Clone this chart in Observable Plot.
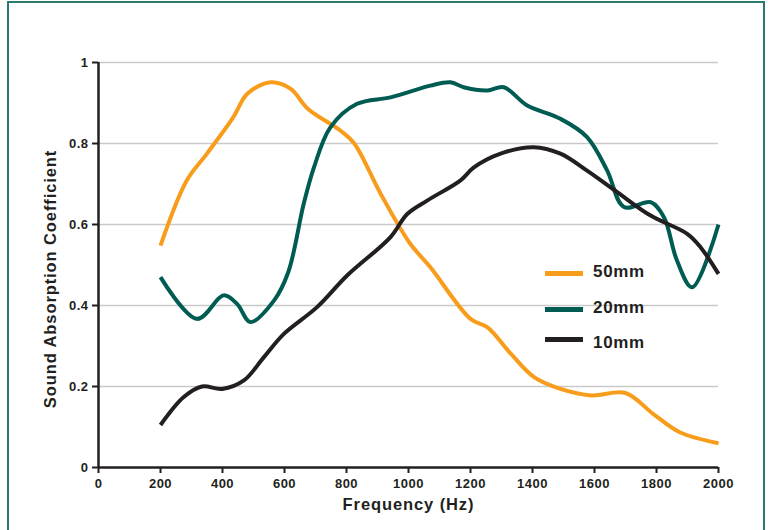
<!DOCTYPE html>
<html>
<head>
<meta charset="utf-8">
<script src="https://cdn.jsdelivr.net/npm/d3@7"></script>
<script src="https://cdn.jsdelivr.net/npm/@observablehq/plot@0.6"></script>
<style>
  body { margin: 0; background: #fff; font-family: "Liberation Sans", Arial, sans-serif; }
  #wrap { position: relative; width: 768px; height: 530px; overflow: hidden; }
  #border { position: absolute; left: 7px; top: 1px; width: 754px; height: 560px;
            border: 2px solid #2b7a70; border-bottom: none; pointer-events: none; }
  #legend { position: absolute; left: 545px; top: 0; }
  .sw { position: absolute; left: 0; width: 38px; height: 5px; }
  .lab { position: absolute; left: 48px; font-weight: bold; font-size: 17px; letter-spacing: 0.7px;
         color: #231f20; line-height: 18px; white-space: nowrap; }
  g[aria-label="x-axis tick label"], g[aria-label="y-axis tick label"] { letter-spacing: 0.5px; }
  g[aria-label="text"] { letter-spacing: 0.9px; }
</style>
</head>
<body>
<div id="wrap">
  <div id="chart"></div>
  <div id="border"></div>
  <div id="legend"></div>
</div>
<script>
const seriesNames = ["50mm", "20mm", "10mm"];
const seriesColors = ["#f89c1c", "#005c52", "#231f20"];

const freq50 = [200, 285, 350, 435, 480, 555, 620, 675, 780, 825, 910, 1005, 1070, 1200, 1255, 1330, 1405, 1490, 1590, 1700, 1790, 1875, 2000];
const abs50  = [0.548, 0.709, 0.775, 0.865, 0.923, 0.951, 0.935, 0.886, 0.832, 0.80, 0.676, 0.553, 0.495, 0.367, 0.346, 0.281, 0.223, 0.194, 0.178, 0.184, 0.132, 0.087, 0.060];

const freq20 = [200, 318, 404, 447, 490, 566, 612, 662, 695, 748, 834, 942, 1071, 1135, 1178, 1254, 1307, 1383, 1490, 1576, 1641, 1695, 1781, 1824, 1866, 1915, 2000];
const abs20  = [0.47, 0.367, 0.425, 0.404, 0.359, 0.412, 0.482, 0.651, 0.741, 0.84, 0.898, 0.914, 0.943, 0.951, 0.939, 0.931, 0.939, 0.894, 0.861, 0.816, 0.733, 0.643, 0.655, 0.618, 0.511, 0.445, 0.60];

const freq10 = [200, 275, 334, 399, 469, 533, 598, 705, 802, 942, 996, 1060, 1168, 1211, 1297, 1404, 1490, 1576, 1673, 1781, 1899, 1942, 2000];
const abs10  = [0.105, 0.174, 0.2, 0.194, 0.215, 0.272, 0.33, 0.396, 0.474, 0.569, 0.626, 0.659, 0.709, 0.741, 0.775, 0.791, 0.775, 0.733, 0.68, 0.622, 0.577, 0.544, 0.478];

const xTicks = [0, 200, 400, 600, 800, 1000, 1200, 1400, 1600, 1800, 2000];
const yTicks = [0, 0.2, 0.4, 0.6, 0.8, 1];
const xTitle = "Frequency (Hz)";
const yTitle = "Sound Absorption Coefficient";

const toRows = (xs, ys, name) => xs.map((x, i) => ({freq: x, abs: ys[i], series: name}));
const rows = [
  ...toRows(freq50, abs50, seriesNames[0]),
  ...toRows(freq20, abs20, seriesNames[1]),
  ...toRows(freq10, abs10, seriesNames[2])
];

const font = "'Liberation Sans', Arial, sans-serif";
const ink = "#231f20";

const plot = Plot.plot({
  width: 768,
  height: 530,
  marginLeft: 98,
  marginRight: 50,
  marginTop: 62,
  marginBottom: 63,
  style: {fontFamily: font, background: "transparent"},
  x: {domain: [0, 2000]},
  y: {domain: [0, 1]},
  color: {domain: seriesNames, range: seriesColors},
  marks: [
    Plot.gridY(yTicks.filter(d => d > 0), {stroke: "#c9c9c9", strokeOpacity: 1, strokeWidth: 1.6}),
    Plot.axisY({ticks: yTicks, tickSize: 6, tickPadding: 4, fontSize: 13, fontWeight: "bold",
                stroke: ink, strokeWidth: 2, fill: ink, label: null, tickFormat: d => String(d)}),
    Plot.axisX({ticks: xTicks, tickSize: 6, tickPadding: 5, fontSize: 13, fontWeight: "bold",
                stroke: ink, strokeWidth: 2, fill: ink, label: null, tickFormat: d => String(d)}),
    Plot.ruleX([0], {y1: 0, y2: 1, stroke: ink, strokeWidth: 2.5}),
    Plot.ruleY([0], {x1: 0, x2: 2000, stroke: ink, strokeWidth: 2.5}),
    Plot.line(rows, {x: "freq", y: "abs", z: "series", stroke: "series", strokeWidth: 4,
                     curve: "catmull-rom", strokeLinecap: "butt"}),
    Plot.text([xTitle], {frameAnchor: "bottom", dy: 31, fontSize: 16.5, fontWeight: "bold", fill: ink, lineAnchor: "top"}),
    Plot.text([yTitle], {frameAnchor: "left", textAnchor: "middle", dx: -48, dy: 14, rotate: -90,
                         fontSize: 16.5, fontWeight: "bold", fill: ink})
  ]
});
document.getElementById("chart").appendChild(plot);

const legend = document.getElementById("legend");
const swatchCenters = [273.7, 309.3, 339.3];
const labelCenters = [272, 307.5, 342.5];
seriesNames.forEach((name, i) => {
  const sw = document.createElement("div");
  sw.className = "sw";
  sw.style.background = seriesColors[i];
  sw.style.top = (swatchCenters[i] - 2.5) + "px";
  const lab = document.createElement("div");
  lab.className = "lab";
  lab.style.top = (labelCenters[i] - 9) + "px";
  lab.textContent = name;
  legend.appendChild(sw);
  legend.appendChild(lab);
});
</script>
</body>
</html>
